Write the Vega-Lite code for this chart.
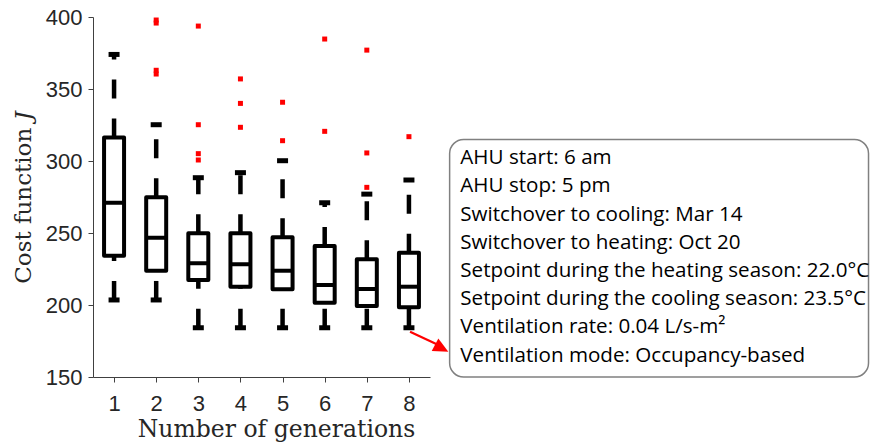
{
  "$schema": "https://vega.github.io/schema/vega-lite/v6.json",
  "width": 337,
  "height": 360,
  "autosize": "none",
  "padding": {"left": 93, "top": 17, "right": 441, "bottom": 68},
  "background": "white",
  "config": {"view": {"stroke": null}},
  "datasets": {
    "boxes": [
      {"gen": 1, "lw": 203.5, "q1": 234.2, "med": 271.0, "q3": 316.3, "uw": 374.0},
      {"gen": 2, "lw": 203.5, "q1": 223.8, "med": 246.7, "q3": 274.8, "uw": 325.2},
      {"gen": 3, "lw": 184.2, "q1": 217.4, "med": 229.0, "q3": 249.8, "uw": 288.4},
      {"gen": 4, "lw": 184.2, "q1": 212.7, "med": 228.3, "q3": 249.8, "uw": 291.9},
      {"gen": 5, "lw": 184.2, "q1": 210.9, "med": 223.8, "q3": 247.0, "uw": 300.2},
      {"gen": 6, "lw": 184.2, "q1": 201.6, "med": 213.9, "q3": 241.0, "uw": 271.0},
      {"gen": 7, "lw": 184.2, "q1": 199.3, "med": 211.1, "q3": 231.7, "uw": 277.0},
      {"gen": 8, "lw": 184.2, "q1": 198.4, "med": 212.7, "q3": 236.3, "uw": 286.8}
    ],
    "outliers": [
      {"gen": 2, "value": 397.9}, {"gen": 2, "value": 395.8}, {"gen": 2, "value": 363.0}, {"gen": 2, "value": 360.4},
      {"gen": 3, "value": 393.7}, {"gen": 3, "value": 325.2}, {"gen": 3, "value": 305.1}, {"gen": 3, "value": 300.7},
      {"gen": 4, "value": 357.0}, {"gen": 4, "value": 340.0}, {"gen": 4, "value": 323.4},
      {"gen": 5, "value": 340.8}, {"gen": 5, "value": 314.1},
      {"gen": 6, "value": 384.7}, {"gen": 6, "value": 320.6},
      {"gen": 7, "value": 377.0}, {"gen": 7, "value": 305.6}, {"gen": 7, "value": 281.7},
      {"gen": 8, "value": 316.9}
    ]
  },
  "encoding": {
    "x": {
      "type": "quantitative",
      "scale": {"domain": [0.5, 8.5], "nice": false, "zero": false, "padding": 0},
      "axis": {
        "title": "Number of generations",
        "values": [1, 2, 3, 4, 5, 6, 7, 8],
        "grid": false,
        "domainColor": "#404040",
        "tickColor": "#404040",
        "tickSize": 5,
        "labelFont": "Liberation Sans",
        "labelFontSize": 22,
        "labelColor": "#262626",
        "labelPadding": 11,
        "titleFont": "DejaVu Serif",
        "titleFontSize": 23.5,
        "titleFontWeight": "normal",
        "titleColor": "#262626",
        "titlePadding": 3,
        "titleX": 183
      }
    },
    "y": {
      "type": "quantitative",
      "scale": {"domain": [150, 400], "nice": false, "zero": false, "padding": 0},
      "axis": {
        "title": "Cost function 𝐽",
        "values": [150, 200, 250, 300, 350, 400],
        "grid": false,
        "domainColor": "#404040",
        "tickColor": "#404040",
        "tickSize": 5,
        "labelFont": "Liberation Sans",
        "labelFontSize": 22,
        "labelColor": "#262626",
        "labelPadding": 6,
        "titleFont": "DejaVu Serif",
        "titleFontSize": 23,
        "titleFontWeight": "normal",
        "titleColor": "#262626",
        "titlePadding": 10
      }
    }
  },
  "layer": [
    {
      "data": {"values": [{}]},
      "mark": {"type": "rect", "fill": "white", "stroke": "#808080", "strokeWidth": 1.5, "cornerRadius": 14, "clip": false},
      "encoding": {
        "x": {"datum": 8.966},
        "x2": {"datum": 18.91},
        "y": {"datum": 314.9},
        "y2": {"datum": 150}
      }
    },
    {
      "data": {"values": [{}]},
      "mark": {
        "type": "text",
        "align": "left",
        "baseline": "alphabetic",
        "font": "Open Sans",
        "fontSize": 20.6,
        "lineHeight": 28.2,
        "color": "black",
        "text": [
          "AHU start: 6 am",
          "AHU stop: 5 pm",
          "Switchover to cooling: Mar 14",
          "Switchover to heating: Oct 20",
          "Setpoint during the heating season: 22.0°C",
          "Setpoint during the cooling season: 23.5°C",
          "Ventilation rate: 0.04 L/s-m²",
          "Ventilation mode: Occupancy-based"
        ]
      },
      "encoding": {
        "x": {"datum": 9.22},
        "y": {"datum": 297.7}
      }
    },
    {
      "data": {"name": "boxes"},
      "mark": {"type": "rule", "strokeWidth": 4.5, "strokeDash": [19, 20], "strokeCap": "butt", "color": "black"},
      "encoding": {"x": {"field": "gen"}, "y": {"field": "lw"}, "y2": {"field": "q1"}}
    },
    {
      "data": {"name": "boxes"},
      "mark": {"type": "rule", "strokeWidth": 4.5, "strokeDash": [19, 20], "strokeCap": "butt", "color": "black"},
      "encoding": {"x": {"field": "gen"}, "y": {"field": "q3"}, "y2": {"field": "uw"}}
    },
    {
      "data": {"name": "boxes"},
      "mark": {"type": "tick", "orient": "horizontal", "size": 11, "thickness": 5, "color": "black", "opacity": 1},
      "encoding": {"x": {"field": "gen"}, "y": {"field": "lw"}}
    },
    {
      "data": {"name": "boxes"},
      "mark": {"type": "tick", "orient": "horizontal", "size": 11, "thickness": 5, "color": "black", "opacity": 1},
      "encoding": {"x": {"field": "gen"}, "y": {"field": "uw"}}
    },
    {
      "data": {"name": "boxes"},
      "mark": {"type": "bar", "size": 20, "fill": "white", "stroke": "black", "strokeWidth": 4, "strokeJoin": "round"},
      "encoding": {"x": {"field": "gen"}, "y": {"field": "q1"}, "y2": {"field": "q3"}}
    },
    {
      "data": {"name": "boxes"},
      "mark": {"type": "tick", "orient": "horizontal", "size": 21, "thickness": 4, "color": "black", "opacity": 1},
      "encoding": {"x": {"field": "gen"}, "y": {"field": "med"}}
    },
    {
      "data": {"name": "outliers"},
      "mark": {"type": "square", "size": 25, "color": "#ff0000", "opacity": 1, "filled": true},
      "encoding": {"x": {"field": "gen"}, "y": {"field": "value"}}
    },
    {
      "data": {"values": [{}]},
      "mark": {"type": "rule", "color": "#ff0000", "strokeWidth": 2.2, "clip": false},
      "encoding": {
        "x": {"datum": 8.026},
        "y": {"datum": 181.5},
        "x2": {"datum": 8.75},
        "y2": {"datum": 171.5}
      }
    },
    {
      "data": {"values": [{}]},
      "mark": {"type": "point", "shape": "M0,0L-2,-0.95L-2,0.95Z", "size": 225, "angle": 27.6, "filled": true, "color": "#ff0000", "opacity": 1, "strokeWidth": 0, "clip": false},
      "encoding": {
        "x": {"datum": 8.935},
        "y": {"datum": 167.6}
      }
    }
  ]
}
